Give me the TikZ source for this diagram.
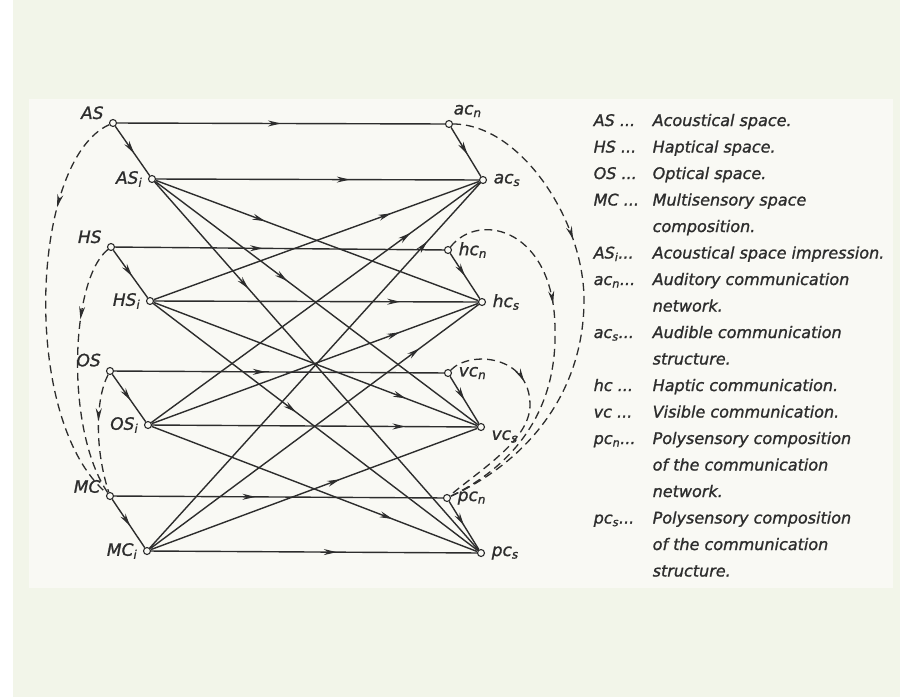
\documentclass[tikz,border=0pt]{standalone}
\usepackage{fontspec}
\setmainfont{DejaVu Sans}[ItalicFeatures={FakeBold=1.2}]
\usepackage{tikz}
\usetikzlibrary{arrows.meta,decorations.markings}

\definecolor{ink}{RGB}{45,45,45}
\definecolor{paper}{RGB}{249,249,244}
\definecolor{frame}{RGB}{242,245,233}

\begin{document}
\begin{tikzpicture}[x=1pt,y=-1pt,ink,line width=1.4pt,
    dot/.style={circle,draw,fill=paper,inner sep=0pt,minimum size=7pt,line width=1.1pt},
    lbl/.style={font=\fontsize{17}{17}\selectfont\itshape,text=ink,inner sep=1pt},
    key/.style={anchor=base west,font=\fontsize{16}{16}\selectfont\itshape,text=ink,inner sep=0pt},
    arr/.style={postaction={decorate},decoration={markings,mark=at position #1 with {\arrow{Stealth[length=13pt,width=6pt]}}}},
    link/.style={dash pattern=on 8pt off 5pt,line width=1.3pt}]

    % Sheet
    \useasboundingbox (0,0) rectangle (900,697);
    \fill[white] (0,0) rectangle (900,697);
    \fill[frame] (13,0) rectangle (900,697);
    \fill[paper] (29,99) rectangle (893,588);

    % Spaces and impressions
    \node [dot, label={[lbl,label distance=4pt]165:AS}] at (113,123) (AS) {};
    \node [dot, label={[lbl,label distance=4pt]180:AS\textsubscript{i}}] at (152,179) (ASi) {};
    \node [dot, label={[lbl,label distance=4pt]165:HS}] at (111,247) (HS) {};
    \node [dot, label={[lbl,label distance=4pt]180:HS\textsubscript{i}}] at (150,301) (HSi) {};
    \node [dot, label={[lbl,label distance=4pt]160:OS}] at (110,371) (OS) {};
    \node [dot, label={[lbl,label distance=4pt]180:OS\textsubscript{i}}] at (148,425) (OSi) {};
    \node [dot, label={[lbl,label distance=4pt]170:MC}] at (110,496) (MC) {};
    \node [dot, label={[lbl,label distance=4pt]180:MC\textsubscript{i}}] at (147,551) (MCi) {};

    % Communication
    \node [dot, label={[lbl,label distance=2pt]60:ac\textsubscript{n}}] at (449,124) (acn) {};
    \node [dot, label={[lbl,label distance=5pt]0:ac\textsubscript{s}}] at (483,180) (acs) {};
    \node [dot, label={[lbl,label distance=5pt]0:hc\textsubscript{n}}] at (448,250) (hcn) {};
    \node [dot, label={[lbl,label distance=5pt]0:hc\textsubscript{s}}] at (482,302) (hcs) {};
    \node [dot, label={[lbl,label distance=5pt]0:vc\textsubscript{n}}] at (448,373) (vcn) {};
    \node [dot, label={[lbl,label distance=5pt]-10:vc\textsubscript{s}}] at (481,427) (vcs) {};
    \node [dot, label={[lbl,label distance=5pt]0:pc\textsubscript{n}}] at (447,498) (pcn) {};
    \node [dot, label={[lbl,label distance=5pt]0:pc\textsubscript{s}}] at (481,553) (pcs) {};

    % Straight branches
    \path[-]
    (AS) edge[arr=.5] (acn)
    (ASi) edge[arr=.6] (acs)
    (HS) edge[arr=.45] (hcn)
    (HSi) edge[arr=.76] (hcs)
    (OS) edge[arr=.46] (vcn)
    (OSi) edge[arr=.78] (vcs)
    (MC) edge[arr=.43] (pcn)
    (MCi) edge[arr=.57] (pcs);

    \path[-]
    (AS) edge[arr=.55] (ASi)
    (HS) edge[arr=.55] (HSi)
    (OS) edge[arr=.55] (OSi)
    (MC) edge[arr=.55] (MCi)
    (acn) edge[arr=.55] (acs)
    (hcn) edge[arr=.5] (hcs)
    (vcn) edge[arr=.5] (vcs)
    (pcn) edge[arr=.5] (pcs);

    \path[-]
    (ASi) edge[arr=.34] (hcs)
    (ASi) edge[arr=.41] (vcs)
    (ASi) edge[arr=.29] (pcs)
    (HSi) edge[arr=.73] (acs)
    (HSi) edge[arr=.78] (vcs)
    (HSi) edge[arr=.44] (pcs)
    (OSi) edge[arr=.79] (acs)
    (OSi) edge[arr=.76] (hcs)
    (OSi) edge[arr=.74] (pcs)
    (MCi) edge[arr=.84] (acs)
    (MCi) edge[arr=.82] (hcs)
    (MCi) edge[arr=.58] (vcs);

    % Dashed compositions
    \draw[link, arr=.25] (AS) .. controls (30,160) and (20,420) .. (MC);
    \draw[link, arr=.3] (HS) .. controls (70,280) and (65,430) .. (MC);
    \draw[link, arr=.4] (OS) .. controls (95,400) and (95,450) .. (MC);

    \draw[link, arr=.36] (acn) .. controls (520,124) and (584,220) .. (584,300)
                                .. controls (584,390) and (530,460) .. (pcn);
    \draw[link, arr=.39] (hcn) .. controls (480,210) and (555,230) .. (555,330)
                                .. controls (557,410) and (515,465) .. (pcn);
    \draw[link, arr=.36] (vcn) .. controls (470,350) and (530,355) .. (530,405)
                                .. controls (530,440) and (480,470) .. (pcn);

    % Legend
    \node [key] at (593,126) (k1) {AS ...};
    \node [key] at (652,126) (t1) {Acoustical space.};
    \node [key] at (593,152.5) (k2) {HS ...};
    \node [key] at (652,152.5) (t2) {Haptical space.};
    \node [key] at (593,179) (k3) {OS ...};
    \node [key] at (652,179) (t3) {Optical space.};
    \node [key] at (593,205.5) (k4) {MC ...};
    \node [key] at (652,205.5) (t4) {Multisensory space};
    \node [key] at (652,232) (t5) {composition.};
    \node [key] at (593,258.5) (k6) {AS\textsubscript{i}...};
    \node [key] at (652,258.5) (t6) {Acoustical space impression.};
    \node [key] at (593,285) (k7) {ac\textsubscript{n}...};
    \node [key] at (652,285) (t7) {Auditory communication};
    \node [key] at (652,311.5) (t8) {network.};
    \node [key] at (593,338) (k9) {ac\textsubscript{s}...};
    \node [key] at (652,338) (t9) {Audible communication};
    \node [key] at (652,364.5) (t10) {structure.};
    \node [key] at (593,391) (k11) {hc ...};
    \node [key] at (652,391) (t11) {Haptic communication.};
    \node [key] at (593,417.5) (k12) {vc ...};
    \node [key] at (652,417.5) (t12) {Visible communication.};
    \node [key] at (593,444) (k13) {pc\textsubscript{n}...};
    \node [key] at (652,444) (t13) {Polysensory composition};
    \node [key] at (652,470.5) (t14) {of the communication};
    \node [key] at (652,497) (t15) {network.};
    \node [key] at (593,523.5) (k16) {pc\textsubscript{s}...};
    \node [key] at (652,523.5) (t16) {Polysensory composition};
    \node [key] at (652,550) (t17) {of the communication};
    \node [key] at (652,576.5) (t18) {structure.};
\end{tikzpicture}
\end{document}
